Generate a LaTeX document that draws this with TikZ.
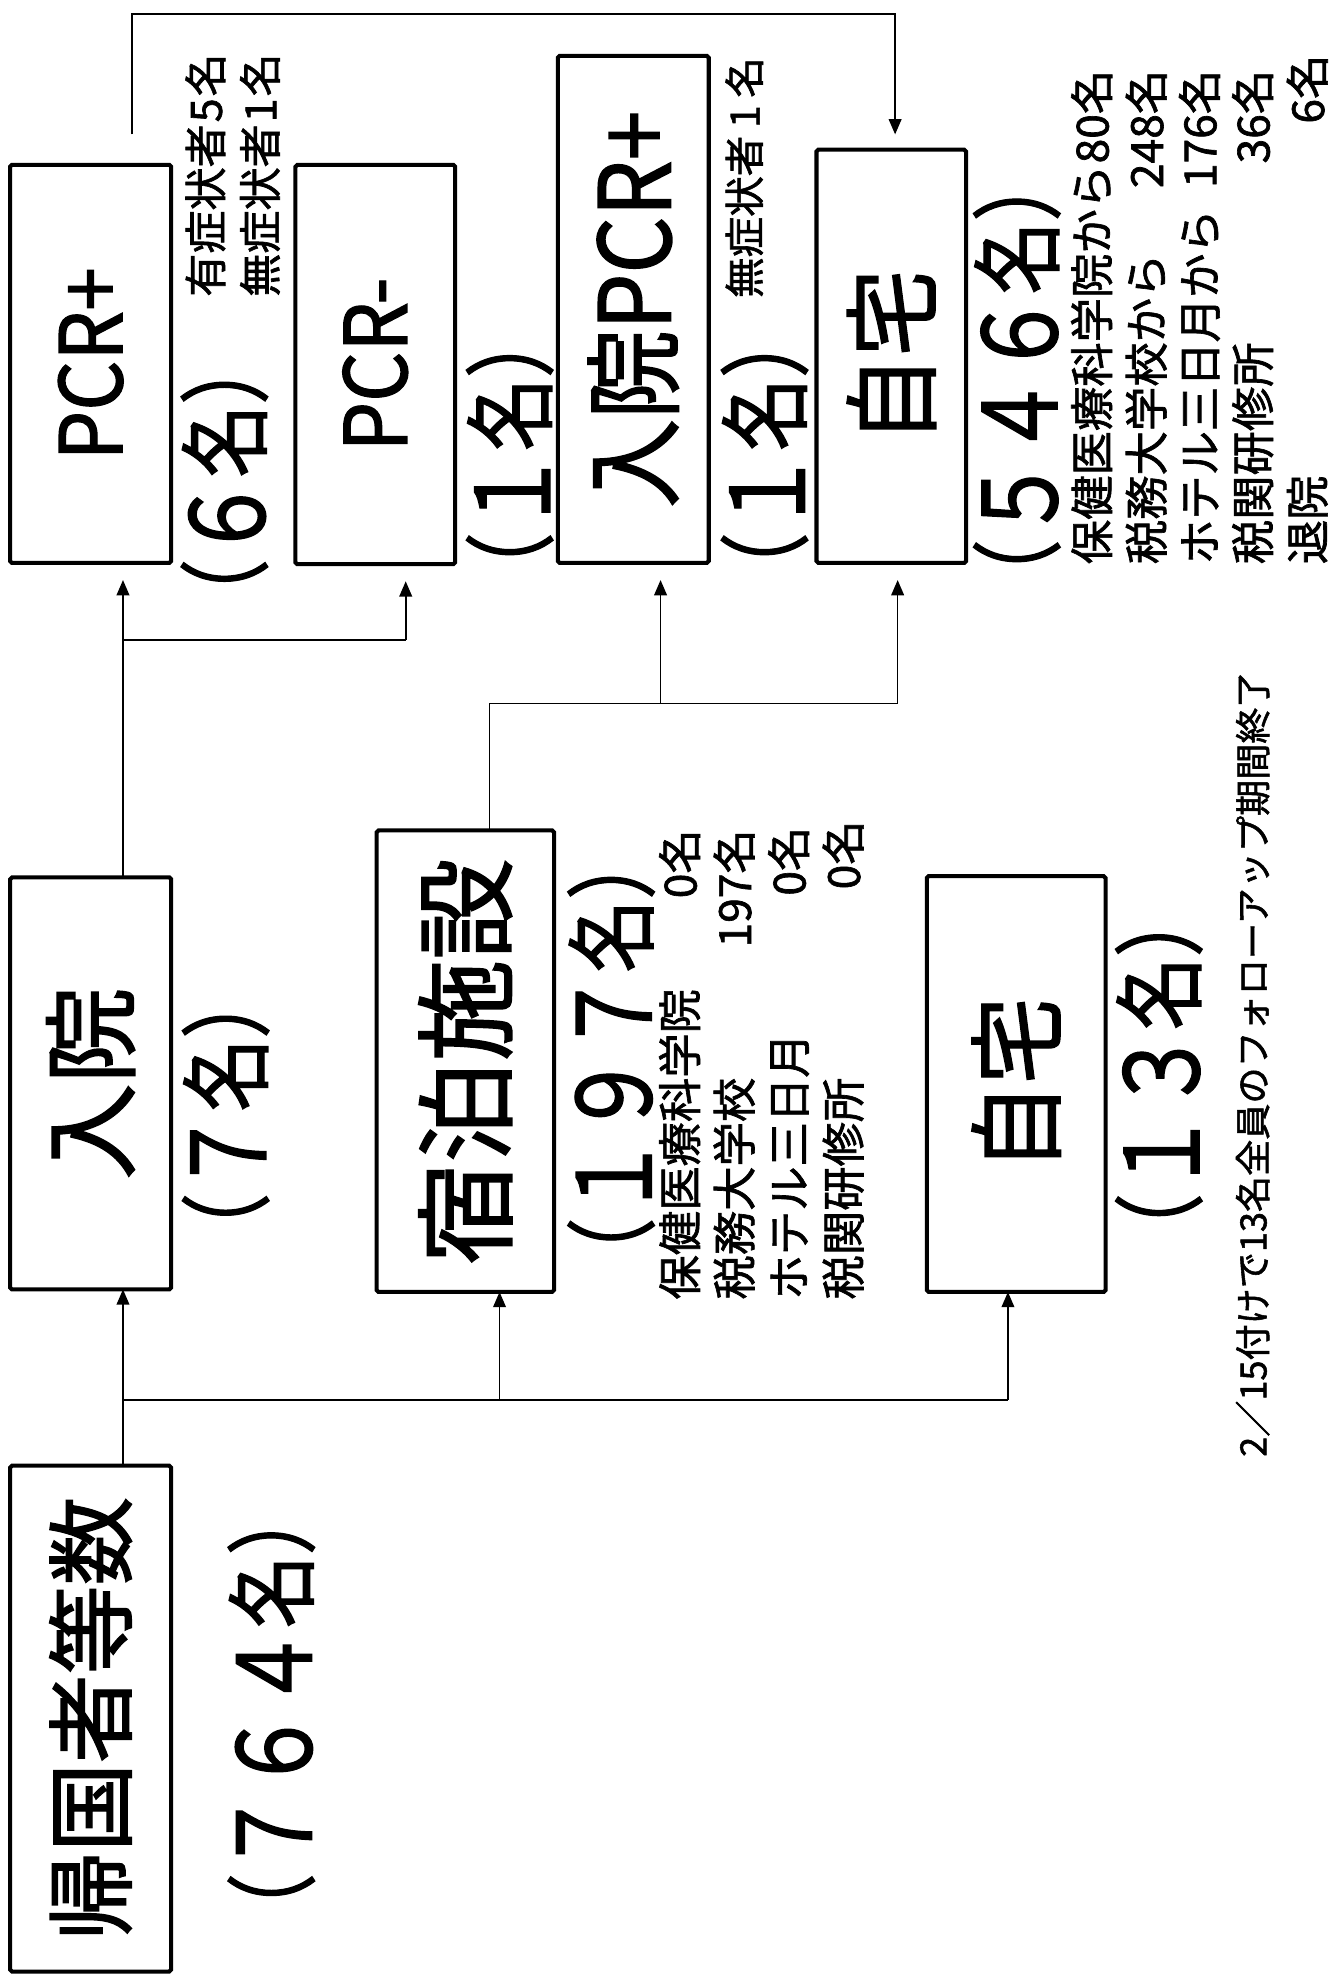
\documentclass[tikz,border=0pt]{standalone}
\usepackage{fontspec}
\setmainfont{Noto Sans CJK JP}[FakeBold=1.5]
\usetikzlibrary{arrows.meta}
\newcommand\myfs[1]{\fontsize{#1pt}{#1pt}\selectfont}
\newcommand\bigdg[1]{\raisebox{-0.06em}{\scalebox{1.12}{#1}}}
\begin{document}
\begin{tikzpicture}[x=1pt,y=1pt,
  box/.style={draw, line width=3.2pt, rounded corners=1.5pt, inner sep=0pt, outer sep=0pt},
  conn/.style={line width=1.3pt},
  arr/.style={line width=1.3pt, -{Triangle[length=12pt,width=10pt]}},
  lbl/.style={inner sep=0pt, outer sep=0pt, rotate=90}]
\useasboundingbox (0,0) rectangle (1053,-1568);
% boxes
\node[box, minimum width=127pt, minimum height=399pt] (A) at (71.5,-1355.5)
  {\rotatebox{90}{\myfs{70}帰国者等数}};
\node[box, minimum width=127pt, minimum height=325pt] (B) at (71.5,-854.5)
  {\rotatebox{90}{\myfs{76}入院}};
\node[box, minimum width=127pt, minimum height=314pt] (C) at (71.5,-287)
  {\rotatebox{90}{\myfs{68}\scalebox{0.91}[1]{PCR+}}};
\node[box, minimum width=126pt, minimum height=315pt] (D) at (296,-287.5)
  {\rotatebox{90}{\myfs{68}\scalebox{0.91}[1]{PCR-}}};
\node[box, minimum width=140pt, minimum height=364pt] (E) at (367,-837)
  {\rotatebox{90}{\myfs{80}宿泊施設}};
\node[box, minimum width=119pt, minimum height=400pt] (F) at (499.5,-244)
  {\rotatebox{90}{\myfs{78}\scalebox{0.9}[1]{入院PCR+}}};
\node[box, minimum width=118pt, minimum height=326pt] (G) at (703,-281)
  {\rotatebox{90}{\myfs{76}\scalebox{0.9}[1]{自宅}}};
\node[box, minimum width=141pt, minimum height=328pt] (H) at (801.5,-855)
  {\rotatebox{90}{\myfs{76}\scalebox{0.9}[1]{自宅}}};
% counts
\node[lbl] (n764) at (214,-1352) {\myfs{72}\scalebox{0.8}[1]{（\bigdg{７６４}名）}};
\node[lbl] (n7) at (178,-880) {\myfs{72}\scalebox{0.8}[1]{（\bigdg{７}名）}};
\node[lbl] (n6) at (177,-380) {\myfs{72}\scalebox{0.8}[1]{（\bigdg{６}名）}};
\node[lbl] (n1a) at (402,-359) {\myfs{72}\scalebox{0.8}[1]{（\bigdg{１}名）}};
\node[lbl] (n1b) at (603,-359) {\myfs{72}\scalebox{0.8}[1]{（\bigdg{１}名）}};
\node[lbl] (n197) at (482,-835) {\myfs{72}\scalebox{0.8}[1]{（\bigdg{１９７}名）}};
\node[lbl] (n546) at (802,-300) {\myfs{72}\scalebox{0.8}[1]{（\bigdg{５４６}名）}};
\node[lbl] (n13) at (914,-848) {\myfs{72}\scalebox{0.8}[1]{（\bigdg{１３}名）}};
% symptom notes
\node[lbl, anchor=west] (s1) at (162,-234) {\myfs{34}\hbox to 192pt{有症状者\hfill{}5\hfill{}名}};
\node[lbl, anchor=west] (s2) at (205,-234) {\myfs{34}\hbox to 192pt{無症状者\hfill{}1\hfill{}名}};
\node[lbl, anchor=west] (s3) at (587,-235) {\myfs{32}\hbox to 190pt{無症状者\hfill{}1\hfill{}名}};
% hotel list
\node[lbl, anchor=west] (h1) at (536,-1025) {\myfs{35}\hbox to 371pt{保健医療科学院\hfill{}0名}};
\node[lbl, anchor=west] (h2) at (579,-1025) {\myfs{35}\hbox to 371pt{税務大学校\hfill{}197名}};
\node[lbl, anchor=west] (h3) at (622,-1025) {\myfs{35}\hbox to 373pt{ホテル三日月\hfill{}0名}};
\node[lbl, anchor=west] (h4) at (665,-1025) {\myfs{35}\hbox to 378pt{税関研修所\hfill{}0名}};
% home list
\node[lbl, anchor=west] (r1) at (861,-445) {\myfs{35}\hbox to 390pt{保健医療科学院から\hfill{}80名}};
\node[lbl, anchor=west] (r2) at (904,-445) {\myfs{35}\hbox to 390pt{税務大学校から\hfill{}248名}};
\node[lbl, anchor=west] (r3) at (946,-445) {\myfs{35}\hbox to 390pt{ホテル三日月から\hfill{}176名}};
\node[lbl, anchor=west] (r4) at (988,-445) {\myfs{35}\hbox to 390pt{税関研修所\hfill{}36名}};
\node[lbl, anchor=west] (r5) at (1031,-445) {\myfs{35}\hbox to 402pt{退院\hfill{}6名}};
% footnote
\node[lbl, anchor=west] (fn) at (988,-1149) {\myfs{28.5}2／15付けで13名全員のフォローアップ期間終了};
% junctions
\coordinate (j1) at (97,-1104);
\coordinate (j2) at (394,-1104);
\coordinate (j3) at (795,-1104);
\coordinate (k1) at (97,-505);
\coordinate (k2) at (320,-505);
\coordinate (m0) at (386,-555);
\coordinate (m1) at (521,-555);
\coordinate (m2) at (708,-555);
\coordinate (t1) at (104,-11);
\coordinate (t2) at (706,-11);
% connectors
\draw[arr] (A.north -| j1) -- (B.south -| j1);
\draw[conn] (j1) -- (j3);
\draw[arr] (j2) -- (E.south -| j2);
\draw[arr] (j3) -- (H.south -| j3);
\draw[conn] (B.north -| k1) -- (k1) -- (k2);
\draw[arr, shorten >=13.5pt] (k1) -- (C.south -| k1);
\draw[arr, shorten >=13.5pt] (k2) -- (D.south -| k2);
\draw[conn] (E.north -| m0) -- (m0) -- (m2);
\draw[arr, shorten >=13.5pt] (m1) -- (F.south -| m1);
\draw[arr, shorten >=13.5pt] (m2) -- (G.south -| m2);
\draw[arr, shorten <=24pt, shorten >=12pt] (C.north -| t1) -- (t1) -- (t2) -- (G.north -| t2);
\end{tikzpicture}
\end{document}
